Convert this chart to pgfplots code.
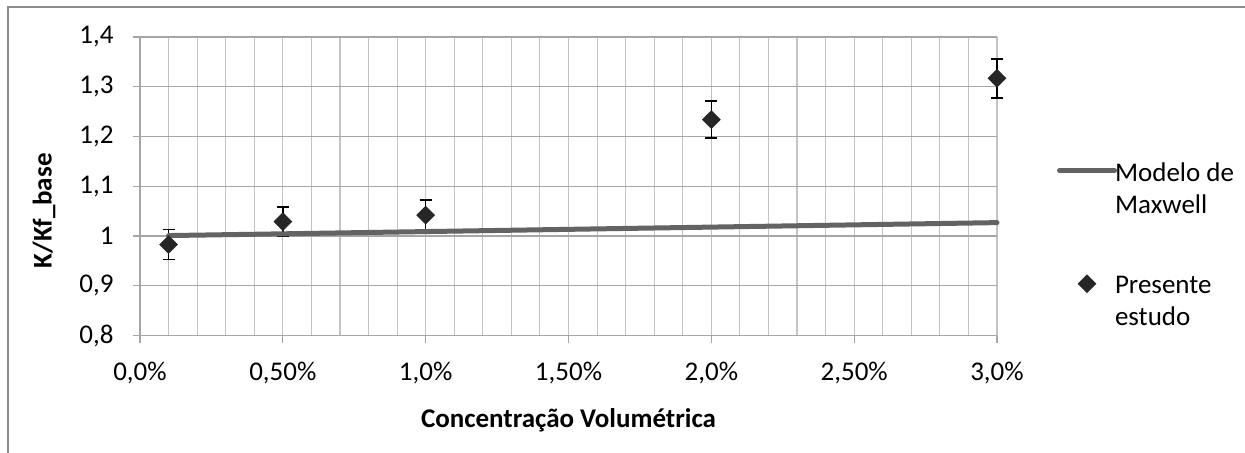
\documentclass[border=0pt]{standalone}
\usepackage{pgfplots}
\pgfplotsset{compat=1.18}
\usepackage{fontspec}
\setmainfont{Carlito}
\definecolor{gridh}{HTML}{A6A6A6}
\definecolor{gridv}{HTML}{C3C3C3}
\definecolor{maxw}{HTML}{636363}
\definecolor{mk}{HTML}{262626}
\definecolor{framec}{HTML}{8C8C8C}
\pgfplotsset{
  mklegend/.style={legend image code/.code={\draw[mark repeat=2, mark phase=2, ##1] plot coordinates {(0pt,9.3pt) (13.75pt,9.3pt) (27.5pt,9.3pt)};}},
  lnlegend/.style={legend image code/.code={\draw[##1] (0pt,9.3pt) -- (27.5pt,9.3pt);}},
}
\pgfplotstableread{
x y e
0.1 0.983 0.030
0.5 1.029 0.030
1.0 1.042 0.030
2.0 1.234 0.037
3.0 1.317 0.039
}\presente
\pgfplotstableread{
x y
0.1 1.001
0.5 1.0045
1.0 1.009
2.0 1.018
3.0 1.027
}\maxwell
\begin{document}
\begin{tikzpicture}
\useasboundingbox (0,0) rectangle (622.5pt,226.5pt);
\draw[framec, line width=0.6pt] (4pt,0pt) -- (4pt,223pt) -- (622.5pt,223pt);
\begin{axis}[
  at={(70pt,58.7pt)}, anchor=south west,
  scale only axis, width=428.5pt, height=149.3pt,
  xmin=0, xmax=3, ymin=0.8, ymax=1.4,
  axis x line=bottom, axis y line=left,
  axis line style={-, gridh, line width=0.6pt},
  xtick={0,0.5,1,1.5,2,2.5,3},
  xticklabels={{0,0\%},{0,50\%},{1,0\%},{1,50\%},{2,0\%},{2,50\%},{3,0\%}},
  minor xtick={0.1,0.2,0.3,0.4,0.6,0.7,0.8,0.9,1.1,1.2,1.3,1.4,1.6,1.7,1.8,1.9,2.1,2.2,2.3,2.4,2.6,2.7,2.8,2.9},
  ytick={0.8,0.9,1.0,1.1,1.2,1.3,1.4},
  yticklabels={{0,8},{0,9},{1},{1,1},{1,2},{1,3},{1,4}},
  xmajorgrids, xminorgrids, ymajorgrids,
  x grid style={gridv, line width=0.55pt},
  y grid style={gridh, line width=0.6pt},
  tick align=outside, major tick length=3.5pt, minor tick length=0pt,
  tick style={gridh, line width=0.6pt},
  ticklabel style={font=\fontsize{13.5}{16}\selectfont},
  yticklabel style={anchor=east, inner sep=0pt, xshift=-9.5pt},
  xticklabel style={anchor=north, inner sep=0pt, yshift=-9.5pt},
  xlabel={\bfseries Concentração Volumétrica},
  ylabel={\bfseries K/Kf\_base},
  label style={font=\fontsize{13.5}{16}\selectfont},
  xlabel style={at={(axis description cs:0.5,0)}, anchor=base, yshift=-46pt},
  ylabel style={at={(axis description cs:-0.112,0.418)}, anchor=center},
  clip=false,
  reverse legend,
  legend style={draw=none, fill=none, inner sep=0pt, outer sep=0pt,
    at={(axis description cs:1.070,0.5935)}, anchor=north west,
    font=\fontsize{13.5}{16}\selectfont, row sep=26pt, column sep=-3pt,
    cells={anchor=base west, align=left, inner sep=0pt}},
  legend cell align=left,
]
\addplot[only marks, mark=square*, mark size=3.1pt,
  mark options={rotate=45, fill=mk, draw=mk},
  mklegend,
  error bars/.cd, y dir=both, y explicit,
  error bar style={black, line width=0.8pt},
  error mark options={black, line width=0.8pt, mark size=3pt, rotate=90}
] table[x=x, y=y, y error=e] {\presente};
\addlegendentry{Presente\\estudo}
\addplot[maxw, line width=2.5pt, line cap=round, mark=none, lnlegend] table[x=x, y=y] {\maxwell};
\addlegendentry{Modelo de\\Maxwell}
\end{axis}
\end{tikzpicture}
\end{document}
